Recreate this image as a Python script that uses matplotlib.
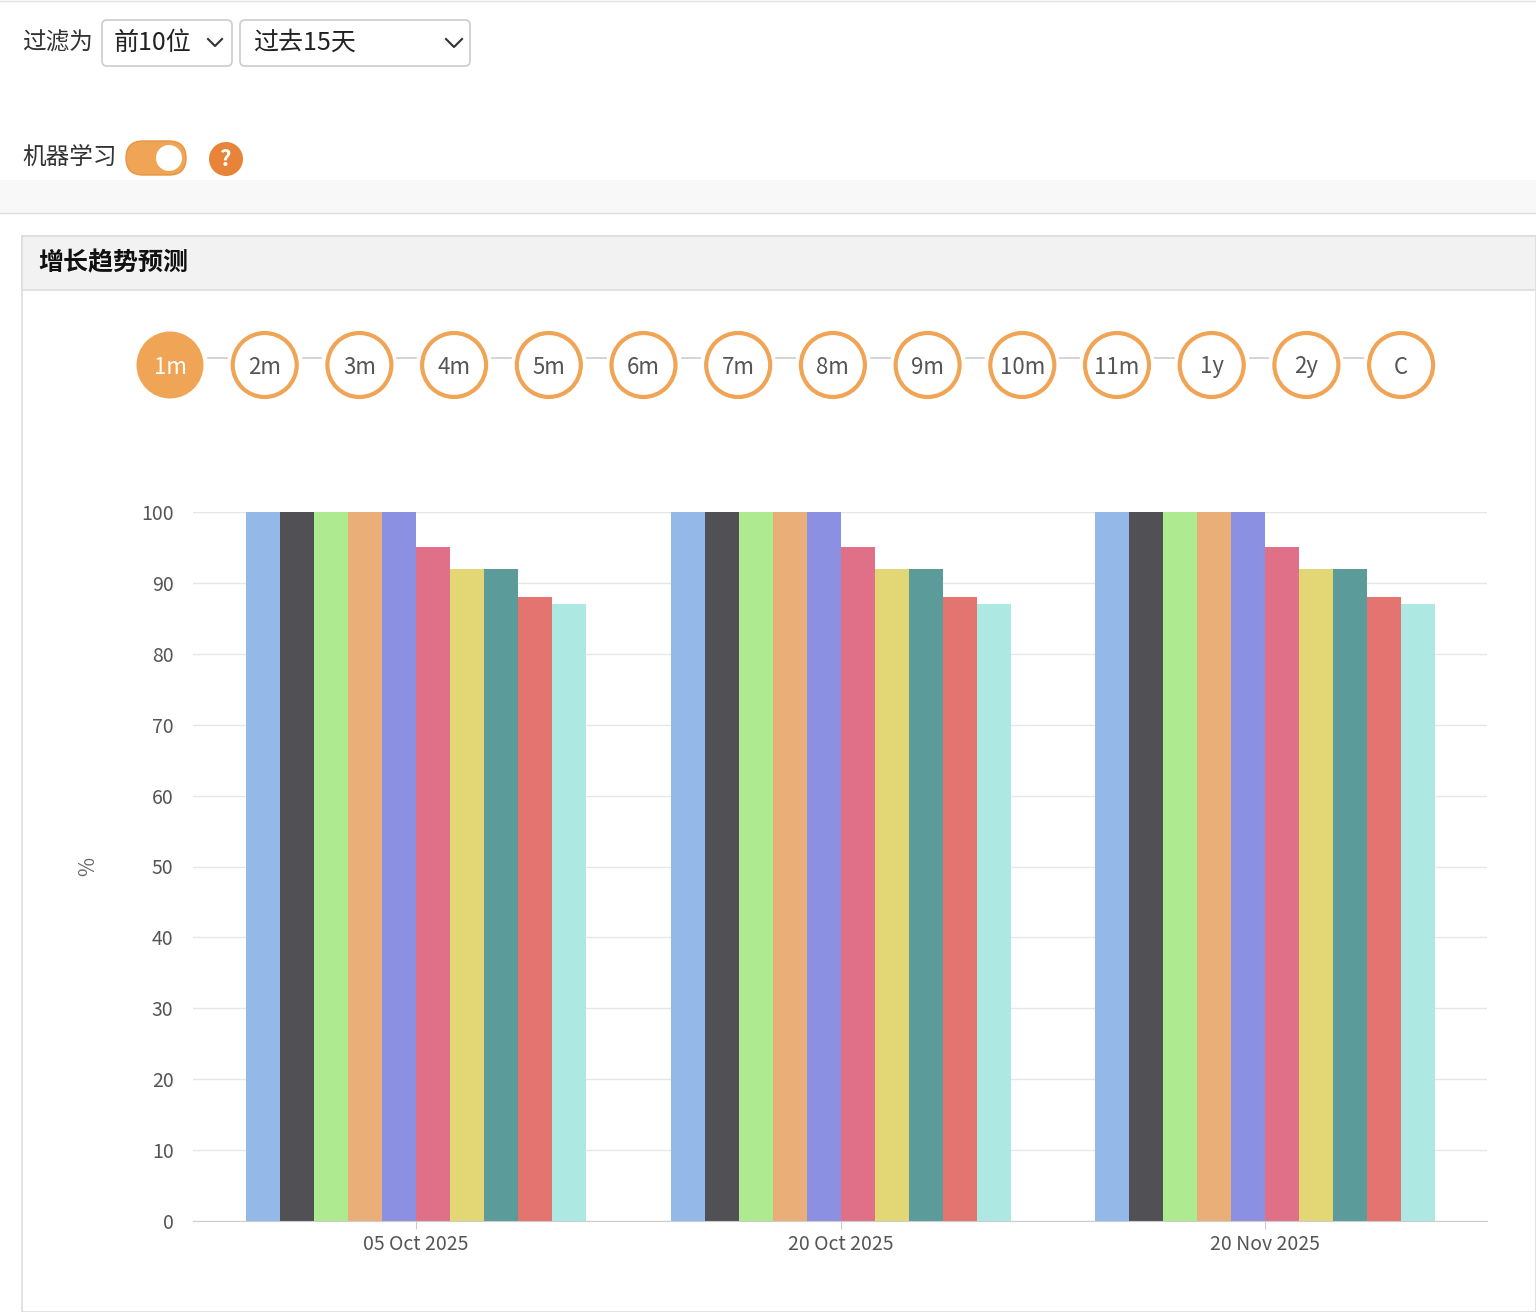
import matplotlib
matplotlib.use("Agg")
import matplotlib.pyplot as plt
from matplotlib.patches import FancyBboxPatch, Circle, Rectangle

plt.rcParams["font.family"] = ["Noto Sans CJK SC", "DejaVu Sans"]

# ---- data ----
dates = ["05 Oct 2025", "20 Oct 2025", "20 Nov 2025"]
series_values = [100, 100, 100, 100, 100, 95, 92, 92, 88, 87]
series_colors = ["#94b9e8", "#505055", "#aeea8f", "#eaae78", "#8b90e3",
                 "#e07088", "#e3d775", "#5b9b9a", "#e47470", "#ade8e2"]
periods = ["1m", "2m", "3m", "4m", "5m", "6m", "7m", "8m", "9m", "10m", "11m", "1y", "2y", "C"]
y_ticks = [0, 10, 20, 30, 40, 50, 60, 70, 80, 90, 100]

W, H = 1536, 1312
fig = plt.figure(figsize=(W / 100, H / 100), dpi=100)

# overlay for UI pieces, pixel coordinates
ui = fig.add_axes([0, 0, 1, 1])
ui.set_xlim(0, W)
ui.set_ylim(H, 0)
ui.axis("off")

orange = "#f0a455"
ui.add_patch(Rectangle((0, 0), W, 213, fc="#ffffff", ec="none"))
ui.add_patch(Rectangle((0, 180), W, 33, fc="#f8f8f8", ec="none"))
ui.plot([0, W], [213, 213], color="#e0e0e0", lw=1)
ui.plot([0, W], [1, 1], color="#e0e0e0", lw=1)

ui.text(22, 43, "过滤为", fontsize=17, va="center", color="#333333")
ui.add_patch(FancyBboxPatch((102, 20), 130, 46, boxstyle="round,pad=0,rounding_size=5",
                            fc="white", ec="#cccccc", lw=1.2))
ui.text(114, 43, "前10位", fontsize=18, va="center", color="#222222")
ui.plot([208, 215, 222], [39, 46, 39], color="#333333", lw=1.5)
ui.add_patch(FancyBboxPatch((240, 20), 230, 46, boxstyle="round,pad=0,rounding_size=5",
                            fc="white", ec="#cccccc", lw=1.2))
ui.text(253, 43, "过去15天", fontsize=18, va="center", color="#222222")
ui.plot([446, 454, 462], [39, 47, 39], color="#333333", lw=1.5)

ui.text(22, 157, "机器学习", fontsize=17, va="center", color="#333333")
ui.add_patch(FancyBboxPatch((126, 141), 60, 34, boxstyle="round,pad=0,rounding_size=17",
                            fc=orange, ec="#e89440", lw=1))
ui.add_patch(Circle((169, 158), 13, fc="white", ec="none"))
ui.add_patch(Circle((226, 159), 17, fc="#e8843a", ec="none"))
ui.text(226, 159, "?", fontsize=16, ha="center", va="center", color="white", fontweight="bold")

# panel
ui.add_patch(Rectangle((22, 236), W - 22, H - 236, fc="white", ec="#dddddd", lw=1.2))
ui.add_patch(Rectangle((22, 236), W - 22, 54, fc="#f2f2f2", ec="#dddddd", lw=1.2))
ui.text(38, 263, "增长趋势预测", fontsize=18, va="center", fontweight="bold", color="#111111")

# period circles
x0, step, cy, r = 170, 94.7, 365, 32
for i, p in enumerate(periods):
    cx = x0 + i * step
    if i < len(periods) - 1:
        ui.plot([cx + r + 6, cx + step - r - 6], [cy - 7, cy - 7], color="#cccccc", lw=1.2)
    if i == 0:
        ui.add_patch(Circle((cx, cy), r + 1.5, fc=orange, ec="none"))
        ui.text(cx, cy + 2, p, fontsize=16, ha="center", va="center", color="white")
    else:
        ui.add_patch(Circle((cx, cy), r, fc="white", ec=orange, lw=3))
        ui.text(cx, cy + 2, p, fontsize=16, ha="center", va="center", color="#555555")

# ---- chart ----
ax = fig.add_axes([193 / W, (H - 1221) / H, 1294 / W, 709 / H])
n = len(series_values)
bw = 34 / 425
for g in range(len(dates)):
    for j, (v, c) in enumerate(zip(series_values, series_colors)):
        ax.bar(g + (j - (n - 1) / 2) * bw, v, width=bw, color=c, linewidth=0)
ax.set_xlim(-0.525, 2.522)
ax.set_ylim(0, 100)
ax.set_yticks(y_ticks)
ax.set_xticks(range(len(dates)))
ax.set_xticklabels(dates)
ax.yaxis.grid(True, color="#e6e6e6", lw=1)
ax.set_axisbelow(True)
for s in ["top", "right", "left"]:
    ax.spines[s].set_visible(False)
ax.spines["bottom"].set_color("#cccccc")
ax.tick_params(axis="y", length=0, labelsize=14, labelcolor="#555555", pad=14)
ax.tick_params(axis="x", length=6, color="#cccccc", labelsize=14, labelcolor="#555555")
ax.set_ylabel("%", fontsize=15, color="#666666", labelpad=30)

fig.savefig("out.png", dpi=100)
